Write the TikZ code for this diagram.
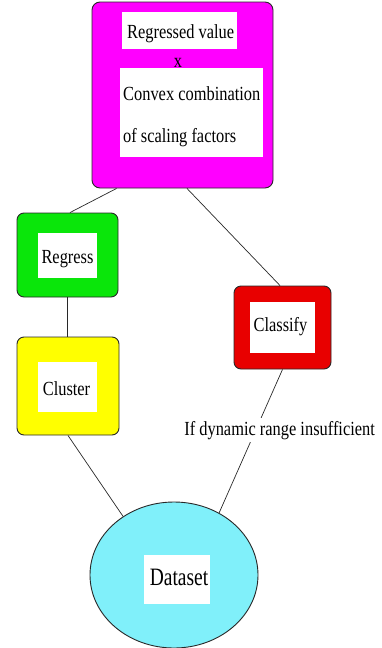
\documentclass[tikz,border=0pt]{standalone}
\usepackage{fontspec}
\usepackage{graphicx}
\setmainfont{Liberation Serif}
\usetikzlibrary{shapes.geometric,calc}
\definecolor{cmag}{RGB}{255,0,255}
\definecolor{cgrn}{RGB}{10,230,10}
\definecolor{cylw}{RGB}{255,255,0}
\definecolor{cred}{RGB}{232,0,0}
\definecolor{ccyan}{RGB}{128,240,250}
\definecolor{cedge}{RGB}{40,40,40}
\newcommand\nrw[1]{\scalebox{0.82}[1]{#1}}
\begin{document}
\begin{tikzpicture}[x=1pt,y=-1pt,
  outerbox/.style={draw=cedge,line width=0.9pt,rounded corners=8pt,inner sep=0pt},
  whitebox/.style={fill=white,draw=none,inner sep=0pt},
  txt/.style={inner sep=0pt,font=\fontsize{20}{24}\selectfont},
  bigtxt/.style={inner sep=0pt,font=\fontsize{25}{30}\selectfont},
  conn/.style={draw=cedge,line width=0.7pt},
  lbl/.style={fill=white,inner sep=3pt,font=\fontsize{20}{24}\selectfont}]
\useasboundingbox (0,0) rectangle (381,648);
% magenta box
\node[outerbox,fill=cmag,minimum width=181pt,minimum height=186pt] (mag) at (182.5,95) {};
\node[whitebox,minimum width=115pt,minimum height=37pt] (w1) at (179.5,30.5) {};
\node[whitebox,minimum width=143pt,minimum height=89pt] (w2) at (191.5,112.5) {};
\node[txt,anchor=base west] (t1) at (127,38) {\nrw{Regressed value}};
\node[txt,anchor=base] (tx) at (178,67) {\nrw{x}};
\node[txt,anchor=base west] (t2) at (123,100) {\nrw{Convex combination}};
\node[txt,anchor=base west] (t3) at (123,142) {\nrw{of scaling factors}};
% green box
\node[outerbox,fill=cgrn,minimum width=101pt,minimum height=84pt,rounded corners=7pt] (grn) at (67.5,255) {};
\node[whitebox,minimum width=59pt,minimum height=45pt] (wg) at (67.5,255.5) {};
\node[txt,anchor=base] (tg) at (67.5,263) {\nrw{Regress}};
% yellow box
\node[outerbox,fill=cylw,minimum width=102pt,minimum height=98pt,rounded corners=7pt] (ylw) at (68,386) {};
\node[whitebox,minimum width=59pt,minimum height=50pt] (wy) at (67.5,387) {};
\node[txt,anchor=base] (ty) at (66.5,395) {\nrw{Cluster}};
% red box
\node[outerbox,fill=cred,minimum width=97pt,minimum height=83pt,rounded corners=7pt] (red) at (282.5,327.5) {};
\node[whitebox,minimum width=65pt,minimum height=51pt] (wr) at (282.5,327.5) {};
\node[txt,anchor=base] (tr) at (280.5,331.5) {\nrw{Classify}};
% dataset ellipse
\node[ellipse,draw=cedge,line width=0.9pt,fill=ccyan,minimum width=168pt,minimum height=146pt,inner sep=0pt] (ds) at (174,575) {};
\node[whitebox,minimum width=66pt,minimum height=49pt] (wd) at (177,579.5) {};
\node[bigtxt,anchor=base] (td) at (179,585) {\scalebox{0.78}[1]{Dataset}};
% connectors
\draw[conn] ($(mag.south west)+(25,0)$) -- ($(grn.north)+(2.5,0)$);
\draw[conn] ($(mag.south)+(4.5,0)$) -- ($(red.north)+(-2.5,0)$);
\draw[conn] (grn.south) -- (grn.south |- ylw.north);
\draw[conn] (ylw.south) -- (ds.131);
\draw[conn] (red.south) -- node[lbl,pos=0.424,xshift=24pt] (lab) {\nrw{If dynamic range insufficient}} (ds.54);
\end{tikzpicture}
\end{document}
